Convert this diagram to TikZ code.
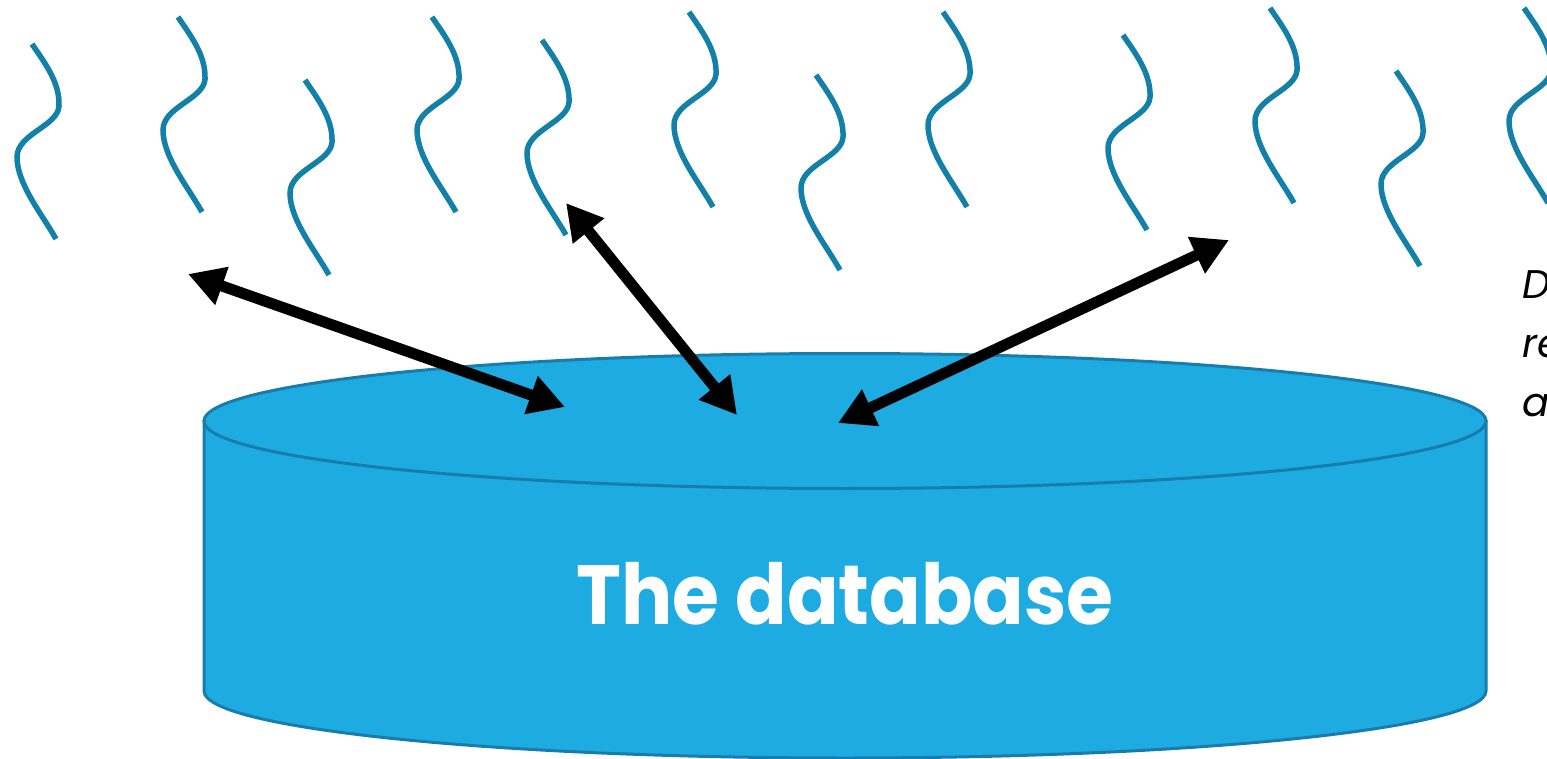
\documentclass[tikz,border=0pt]{standalone}
\usepackage{fontspec}
\setmainfont{Poppins}
\usetikzlibrary{arrows.meta}
\definecolor{wave}{RGB}{19,128,168}
\definecolor{dbfill}{RGB}{30,171,226}
\definecolor{dbline}{RGB}{24,125,172}
\tikzset{
  squig/.style={draw=wave, line width=5.5pt},
  dbarrow/.style={line width=11pt, {Triangle[length=36pt,width=38pt]}-{Triangle[length=36pt,width=38pt]}},
  dbshape/.style={fill=dbfill, draw=dbline, line width=3pt},
}
\newcommand{\squiggle}[2]{%
  \draw[squig, shift={(#1,#2)}] (0,0) .. controls (12,18) and (28,38) .. (27,62)
     .. controls (26,82) and (-15,90) .. (-15,113)
     .. controls (-15,140) and (10,170) .. (24,195);}
\begin{document}
\begin{tikzpicture}[x=1pt,y=-1pt]
\useasboundingbox (0,0) rectangle (1547,759);
% squiggles
\squiggle{32}{44}
\squiggle{178}{17}
\squiggle{305}{80}
\squiggle{432}{17}
\squiggle{542}{40}
\squiggle{689}{12}
\squiggle{816}{75}
\squiggle{943}{12}
\squiggle{1123}{35}
\squiggle{1270}{8}
\squiggle{1396}{71}
\squiggle{1524}{8}
% database cylinder
\draw[dbshape] (204,421) -- (204,691) arc[start angle=180, end angle=0, x radius=641, y radius=67] -- (1486,421) -- cycle;
\draw[dbshape] (845,421) ellipse[x radius=641, y radius=67.5];
\node[text=white, font=\fontsize{84}{84}\selectfont\bfseries] (db) at (845,594) {\scalebox{0.905}[1]{The database}};
% arrow ends
\coordinate (a1s) at (188,274);
\coordinate (a1e) at (565,407);
\coordinate (a2s) at (566,203);
\coordinate (a2e) at (737,415);
\coordinate (a3s) at (1229,240);
\coordinate (a3e) at (838,423);
\draw[dbarrow] (a1s) -- (a1e);
\draw[dbarrow] (a2s) -- (a2e);
\draw[dbarrow] (a3s) -- (a3e);
% side text (cut off at the picture's edge, as in the reference)
\node[anchor=north west, align=left, font=\fontsize{40}{59}\selectfont\itshape, inner sep=0pt] (side) at (1522,270) {D\\re\\a};
\end{tikzpicture}
\end{document}
